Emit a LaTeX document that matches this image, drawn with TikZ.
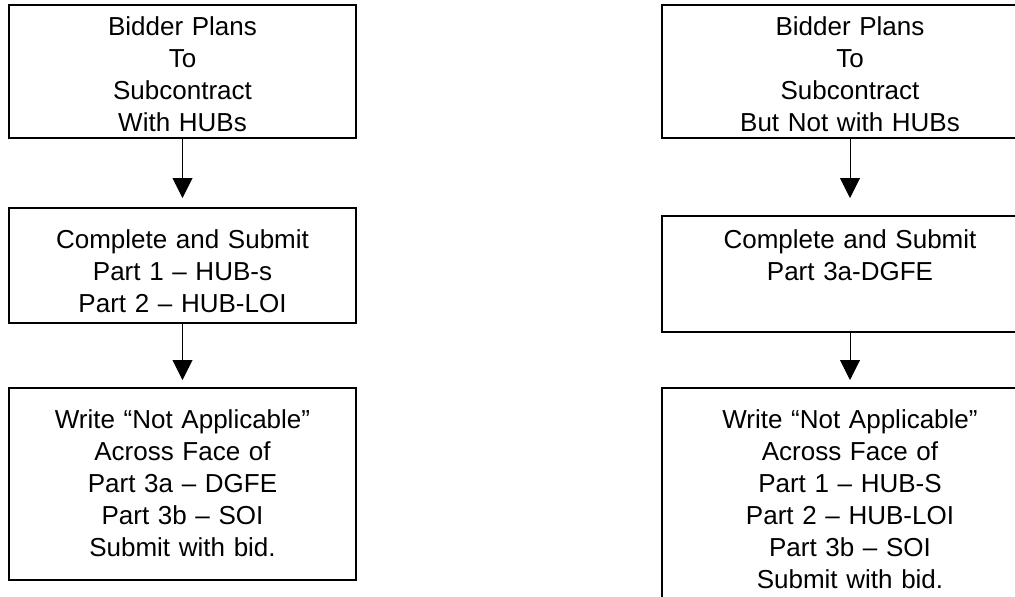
\documentclass[tikz,border=0pt]{standalone}
\usepackage{fontspec}
\setmainfont{Liberation Sans}
\usetikzlibrary{arrows.meta}

\tikzset{
  flowbox/.style={draw, line width=1.5pt, inner sep=0pt, outer sep=0pt,
    align=center, anchor=north, font=\fontsize{26}{32}\selectfont},
  flowarrow/.style={line width=1pt, -{Triangle[width=20pt,length=20pt]}}
}

\begin{document}
\begin{tikzpicture}[x=1pt,y=-1pt]
  \useasboundingbox (0,0) rectangle (1015,597);
  % bidder subcontracts with HUBs
  \begin{scope}[xshift=182.5pt]
   \node[flowbox, text width=347pt, text height=30pt, text depth=103pt] (hubplan) at (0,5)
     {Bidder Plans\\To\\Subcontract\\With HUBs};
   \node[flowbox, text width=347pt, text height=40pt, text depth=75pt] (hubsubmit) at (0,208)
     {Complete and Submit\\Part 1 – HUB-s\\Part 2 – HUB-LOI};
   \node[flowbox, text width=347pt, text height=40pt, text depth=152pt] (hubwaive) at (0,388)
     {Write “Not Applicable”\\Across Face of\\Part 3a – DGFE\\Part 3b – SOI\\Submit with bid.};
   \draw[flowarrow, shorten >=10pt] (hubplan) -- (hubsubmit);
   \draw[flowarrow, shorten >=8pt] (hubsubmit) -- (hubwaive);
  \end{scope}
  % bidder subcontracts, but not with HUBs
  \begin{scope}[xshift=850pt]
   \node[flowbox, text width=376pt, text height=30pt, text depth=103pt] (nohubplan) at (0,5)
     {Bidder Plans\\To\\Subcontract\\But Not with HUBs};
   \node[flowbox, text width=376pt, text height=32pt, text depth=84pt] (nohubsubmit) at (0,216)
     {Complete and Submit\\Part 3a-DGFE};
   \node[flowbox, text width=376pt, text height=40pt, text depth=187pt] (nohubwaive) at (0,388)
     {Write “Not Applicable”\\Across Face of\\Part 1 – HUB-S\\Part 2 – HUB-LOI\\Part 3b – SOI\\Submit with bid.};
   \draw[flowarrow, shorten >=18pt] (nohubplan) -- (nohubsubmit);
   \draw[flowarrow, shorten >=8pt] (nohubsubmit) -- (nohubwaive);
  \end{scope}
\end{tikzpicture}
\end{document}
